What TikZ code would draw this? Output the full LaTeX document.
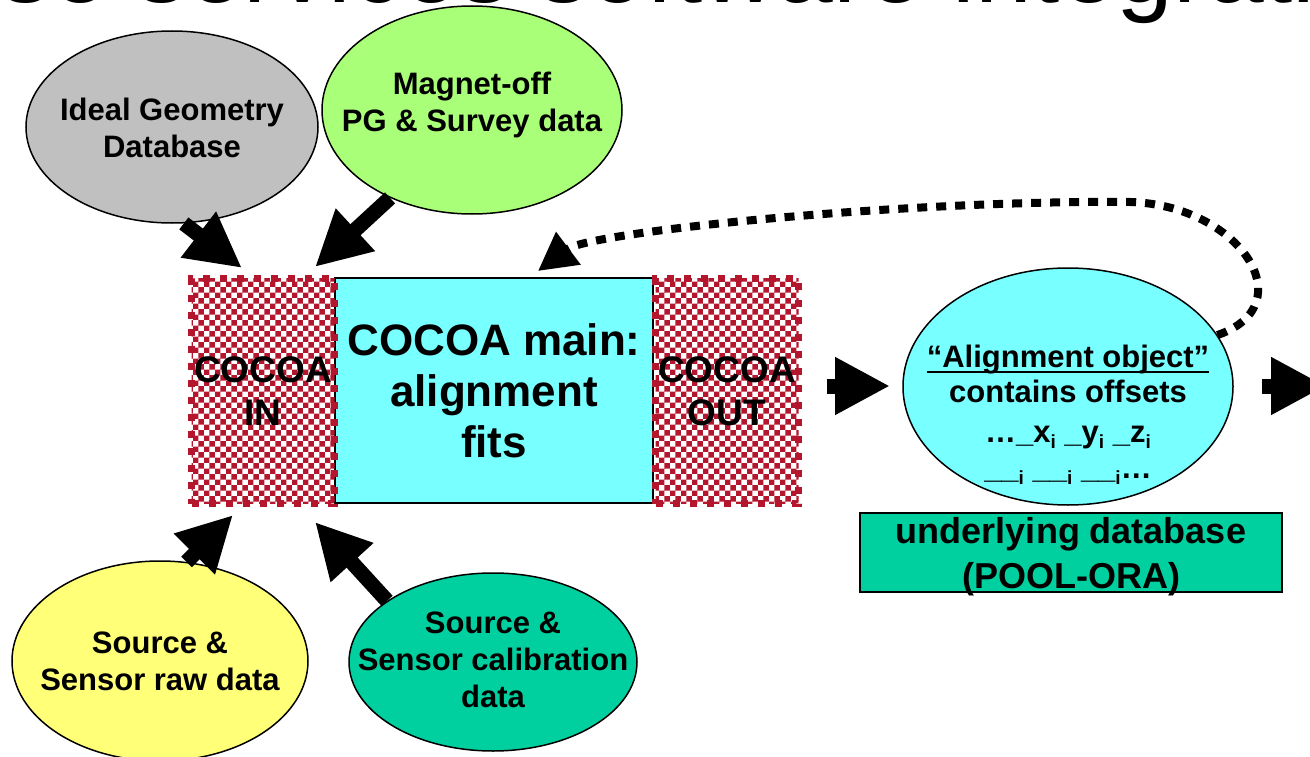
\documentclass[tikz,border=0pt]{standalone}
\usepackage{fontspec}
\setmainfont{Liberation Sans}
\usetikzlibrary{shapes.geometric,arrows.meta,patterns}
\definecolor{grayfill}{RGB}{192,192,192}
\definecolor{greenfill}{RGB}{170,255,120}
\definecolor{cyanfill}{RGB}{120,255,255}
\definecolor{yellowfill}{RGB}{255,255,120}
\definecolor{tealfill}{RGB}{0,208,160}
\definecolor{cocoared}{RGB}{180,22,45}
\newcommand\myul[1]{\setbox0\hbox{#1}\rlap{\rule[-5pt]{\wd0}{2pt}}\box0}
\newcommand\subi{\raisebox{-6pt}{\fontsize{19}{19}\selectfont i}}
\tikzset{
  lbl/.style={font=\fontsize{31}{37}\selectfont\bfseries, align=center, inner sep=0pt},
  ell/.style={ellipse, draw=black, line width=1.5pt, inner sep=0pt},
  bigarrow/.style={line width=15pt, -{Triangle[length=55pt,width=54pt]}},
  dotarrow/.style={line width=8pt, dash pattern=on 10pt off 9pt, -{Triangle[length=38pt,width=39pt]}},
  cocoabox/.style={draw=cocoared, line width=7pt, dash pattern=on 7pt off 10pt,
    pattern=checkerboard, pattern color=cocoared, inner sep=0pt,
    minimum width=143pt, minimum height=225pt, align=center,
    font=\fontsize{37}{43}\selectfont\bfseries},
}
\begin{document}
\begin{tikzpicture}[x=1pt,y=-1pt]
\useasboundingbox (0,0) rectangle (1310,757);
\clip (0,0) rectangle (1310,757);
\node[anchor=base west, inner sep=0pt, font=\fontsize{102}{102}\selectfont] (title) at (0,3) {se services software integrati};
% source ellipses
\node[ell, fill=grayfill, minimum width=292pt, minimum height=192pt,
  label={[lbl, yshift=-1pt]center:{Ideal Geometry\\Database}}] (gray) at (172,127) {};
\node[ell, fill=greenfill, minimum width=300pt, minimum height=208pt,
  label={[lbl, yshift=5pt]center:{Magnet-off\\PG \& Survey data}}] (green) at (472,110) {};
\node[ell, fill=yellowfill, minimum width=296pt, minimum height=200pt,
  label={[lbl]center:{Source \&\\Sensor raw data}}] (yellow) at (160,661) {};
\node[ell, fill=tealfill, minimum width=288pt, minimum height=178pt,
  label={[lbl, yshift=2pt]center:{Source \&\\Sensor calibration\\data}}] (teal) at (493,662) {};
% main boxes
\node[draw=black, line width=2pt, fill=cyanfill, minimum width=318pt, minimum height=225pt, inner sep=0pt, align=center, font=\fontsize{44}{51}\selectfont\bfseries] (main) at (494,390.5) {COCOA main:\\alignment\\fits};
\node[cocoabox] (cin) at (263,391) {COCOA\\IN};
\node[cocoabox] (cout) at (727,391) {COCOA\\OUT};
% alignment object
\node[ellipse, draw=black, line width=1.5pt, fill=cyanfill, minimum width=330pt, minimum height=237pt, inner sep=0pt] (al) at (1068,386.5) {};
\node[anchor=north, inner sep=0pt, align=center, font=\fontsize{31}{38}\selectfont\bfseries] (altext) at (1068,345)
  {\myul{“Alignment object”}\\[-3pt]
   contains offsets\\[2pt]
   …\_x\subi\ \_y\subi\ \_z\subi\\[-2pt]
   \_\_\subi\ \_\_\subi\ \_\_\subi…};
% database box
\node[draw=black, line width=1.5pt, fill=tealfill, minimum width=422pt, minimum height=79pt, inner sep=0pt] (db) at (1071,552.5) {};
\node[anchor=north, inner sep=0pt, align=center, font=\fontsize{36}{45}\selectfont\bfseries] (dbtext) at (1071,517) {underlying database\\(POOL-ORA)};
% arrow coordinates
\coordinate (tA) at (242,268);
\coordinate (tB) at (315,267);
\coordinate (tC) at (233,515);
\coordinate (tD) at (315,522);
\coordinate (r1s) at (827,386);
\coordinate (r1e) at (890,386);
\coordinate (r2s) at (1262,386);
\coordinate (r2e) at (1326,386);
\coordinate (tL) at (538,271);
\draw[bigarrow] (gray.-83) -- (tA);
\draw[bigarrow] (green.-133) -- (tB);
\draw[bigarrow] (yellow.75) -- (tC);
\draw[bigarrow] (teal.150) -- (tD);
\draw[bigarrow] (r1s) -- (r1e);
\draw[bigarrow] (r2s) -- (r2e);
\draw[dotarrow] (al.19) .. controls (1305,305) and (1240,205) .. (1130,202)
  .. controls (900,200) and (590,232) .. (tL);
\end{tikzpicture}
\end{document}
